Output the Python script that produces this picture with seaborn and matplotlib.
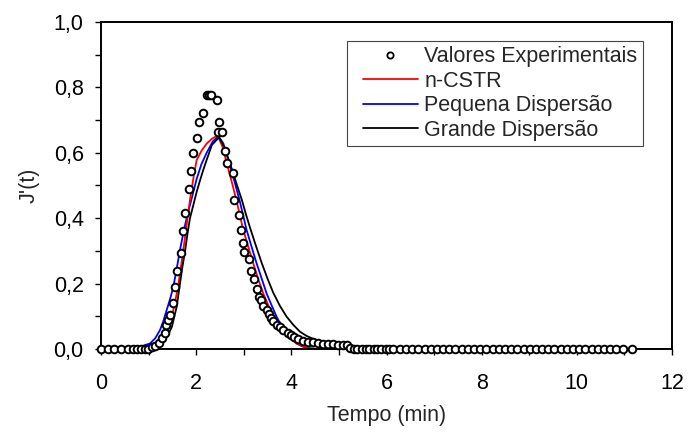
import numpy as np
import pandas as pd
import matplotlib
matplotlib.use("Agg")
import matplotlib.pyplot as plt
from matplotlib.ticker import MultipleLocator, FuncFormatter
from matplotlib.lines import Line2D
from matplotlib.legend_handler import HandlerLine2D
import seaborn as sns

# ---------------- data ----------------
t_exp = [0.00, 0.14, 0.28, 0.42, 0.56, 0.67, 0.76, 0.84, 0.92, 0.99,
         1.07, 1.14, 1.21, 1.28, 1.34, 1.37, 1.40, 1.44, 1.52, 1.56,
         1.60, 1.675, 1.72, 1.76, 1.85, 1.89, 1.93, 2.01, 2.05, 2.14,
         2.22, 2.26, 2.31, 2.43, 2.455, 2.48, 2.55, 2.60, 2.64, 2.77,
         2.80, 2.90, 2.94, 2.98, 3.01, 3.10, 3.15, 3.22, 3.28, 3.31,
         3.36, 3.41, 3.48, 3.53, 3.57, 3.62, 3.69, 3.76, 3.83, 3.92,
         3.99, 4.06, 4.15, 4.25, 4.34, 4.46, 4.57, 4.67, 4.78, 4.88,
         4.99, 5.09, 5.16, 5.23, 5.31, 5.39, 5.48, 5.56, 5.64, 5.73,
         5.81, 5.89, 5.98, 6.06, 6.14, 6.28, 6.41, 6.54, 6.67, 6.80,
         6.93, 7.06, 7.19, 7.32, 7.45, 7.58, 7.71, 7.84, 7.97, 8.10,
         8.23, 8.36, 8.49, 8.62, 8.75, 8.88, 9.01, 9.14, 9.27, 9.40,
         9.53, 9.66, 9.79, 9.92, 10.05, 10.18, 10.31, 10.44, 10.57, 10.70,
         10.83, 10.96, 11.15]
v_exp = [0, 0, 0, 0, 0, 0, 0, 0, 0, 0.001,
         0.006, 0.010, 0.018, 0.034, 0.050, 0.074, 0.089, 0.105, 0.142, 0.190,
         0.240, 0.295, 0.362, 0.416, 0.490, 0.545, 0.600, 0.644, 0.693, 0.722,
         0.778, 0.778, 0.778, 0.760, 0.663, 0.693, 0.663, 0.605, 0.568, 0.537,
         0.455, 0.410, 0.365, 0.325, 0.298, 0.275, 0.238, 0.213, 0.182, 0.159,
         0.149, 0.132, 0.118, 0.106, 0.095, 0.085, 0.073, 0.066, 0.057, 0.050,
         0.044, 0.037, 0.030, 0.025, 0.022, 0.020, 0.017, 0.015, 0.015, 0.015,
         0.012, 0.012, 0.012, 0.003, 0, 0, 0, 0, 0, 0,
         0, 0, 0, 0, 0, 0, 0, 0, 0, 0,
         0, 0, 0, 0, 0, 0, 0, 0, 0, 0,
         0, 0, 0, 0, 0, 0, 0, 0, 0, 0,
         0, 0, 0, 0, 0, 0, 0, 0, 0, 0,
         0, 0, 0]

t_ncstr = [0, 0.90, 1.03, 1.14, 1.24, 1.31, 1.38, 1.45, 1.52, 1.62,
           1.73, 1.80, 1.87, 1.95, 2.01, 2.12, 2.22, 2.33, 2.45, 2.55,
           2.64, 2.75, 2.85, 2.99, 3.10, 3.20, 3.30, 3.41, 3.52, 3.62,
           3.72, 3.83, 3.97, 4.11, 4.25, 4.39, 4.55, 12.0]
v_ncstr = [0, 0, 0.003, 0.008, 0.017, 0.030, 0.048, 0.080, 0.119, 0.190,
           0.303, 0.380, 0.456, 0.530, 0.578, 0.608, 0.628, 0.643, 0.653, 0.620,
           0.570, 0.510, 0.452, 0.364, 0.310, 0.262, 0.215, 0.170, 0.132, 0.099,
           0.075, 0.053, 0.033, 0.017, 0.008, 0.003, 0, 0]

t_pequena = [0, 0.45, 0.61, 0.82, 1.03, 1.14, 1.24, 1.31, 1.38, 1.45,
             1.52, 1.59, 1.66, 1.73, 1.80, 1.87, 1.94, 2.01, 2.11, 2.22,
             2.35, 2.47, 2.57, 2.68, 2.80, 2.91, 3.06, 3.17, 3.27, 3.38,
             3.48, 3.59, 3.69, 3.78, 3.87, 3.99, 4.11, 4.23, 4.35, 4.50, 12.0]
v_pequena = [0, 0, 0.003, 0.007, 0.017, 0.033, 0.058, 0.085, 0.119, 0.152,
             0.190, 0.245, 0.303, 0.355, 0.400, 0.440, 0.480, 0.520, 0.565, 0.600,
             0.635, 0.651, 0.629, 0.575, 0.515, 0.456, 0.364, 0.310, 0.262, 0.214,
             0.170, 0.132, 0.099, 0.074, 0.053, 0.033, 0.017, 0.008, 0.003, 0, 0]

t_grande = [0, 0.85, 1.10, 1.20, 1.31, 1.40, 1.49, 1.59, 1.66, 1.71,
            1.77, 1.82, 1.87, 1.94, 2.01, 2.08, 2.15, 2.22, 2.33, 2.48,
            2.60, 2.75, 2.86, 2.96, 3.05, 3.13, 3.25, 3.38, 3.50, 3.62,
            3.76, 3.90, 4.04, 4.18, 4.32, 4.46, 4.60, 4.81, 5.02, 5.20, 12.0]
v_grande = [0, 0, 0.007, 0.013, 0.022, 0.040, 0.068, 0.129, 0.200, 0.250,
            0.303, 0.355, 0.400, 0.440, 0.480, 0.515, 0.548, 0.578, 0.624, 0.647,
            0.615, 0.550, 0.500, 0.456, 0.410, 0.372, 0.318, 0.262, 0.215, 0.172,
            0.132, 0.099, 0.074, 0.053, 0.040, 0.031, 0.022, 0.012, 0.004, 0, 0]

x_ticks = [0, 2, 4, 6, 8, 10, 12]
y_ticks = [0.0, 0.2, 0.4, 0.6, 0.8, 1.0]

labels = ["Valores Experimentais", "n-CSTR", "Pequena Dispersão", "Grande Dispersão"]
colors = {"n-CSTR": "#ff0000", "Pequena Dispersão": "#0000ff", "Grande Dispersão": "#000000"}

# ---------------- style ----------------
FS = 15.5
sns.set_style("ticks")
plt.rcParams["font.family"] = ["Liberation Sans", "DejaVu Sans"]
plt.rcParams["font.size"] = FS

fig = plt.figure(figsize=(6.9, 4.37), dpi=100)
ax = fig.add_axes([101 / 690, 1 - 349 / 437, 571 / 690, 327 / 437])

exp_df = pd.DataFrame({"t": t_exp, "v": v_exp})
models = [("Pequena Dispersão", t_pequena, v_pequena),
          ("n-CSTR", t_ncstr, v_ncstr),
          ("Grande Dispersão", t_grande, v_grande)]
for name, tt, vv in models:
    df = pd.DataFrame({"t": tt, "v": vv})
    sns.lineplot(data=df, x="t", y="v", ax=ax, color=colors[name], linewidth=1.3,
                 estimator=None, sort=False, legend=False, zorder=2)

sns.scatterplot(data=exp_df, x="t", y="v", ax=ax, marker="o", s=30,
                facecolor="white", edgecolor="black", linewidth=1.4,
                legend=False, zorder=3)
ax.collections[-1].set_clip_on(False)

ax.set_xlim(0, 12)
ax.set_ylim(0, 1.0)
ax.set_xticks(x_ticks)
ax.set_yticks(y_ticks)
ax.xaxis.set_minor_locator(MultipleLocator(1))
ax.yaxis.set_minor_locator(MultipleLocator(0.1))
ax.yaxis.set_major_formatter(FuncFormatter(lambda v, p: f"{v:.1f}".replace(".", ",")))
ax.xaxis.set_major_formatter(FuncFormatter(lambda v, p: f"{v:g}"))
ax.tick_params(axis="both", which="both", direction="out", length=4.5, width=1,
               colors="black", labelsize=FS, top=False, right=False)
ax.tick_params(axis="y", which="major", pad=8)
ax.tick_params(axis="x", which="major", pad=13)
for sp in ax.spines.values():
    sp.set_visible(True)
    sp.set_color("black")
    sp.set_linewidth(1.4)

ax.set_xlabel("Tempo (min)", fontsize=FS, labelpad=8)
ax.set_ylabel("J'(t)", fontsize=FS, labelpad=10)

handles = [
    Line2D([], [], marker="o", linestyle="none", markersize=4.5, markerfacecolor="white",
           markeredgecolor="black", markeredgewidth=1.3),
    Line2D([], [], color=colors["n-CSTR"], linewidth=1.3),
    Line2D([], [], color=colors["Pequena Dispersão"], linewidth=1.3),
    Line2D([], [], color=colors["Grande Dispersão"], linewidth=1.3),
]
hmap = {h: HandlerLine2D(xpad=0.5) for h in handles}
leg = ax.legend(handles, labels, loc="upper right", bbox_to_anchor=(0.949, 0.942),
                borderaxespad=0, fontsize=FS, handlelength=3.05, handletextpad=0.3,
                labelspacing=0.16, borderpad=0.25, fancybox=False, framealpha=1,
                edgecolor="#444444", handler_map=hmap)
leg.get_frame().set_linewidth(0.8)

fig.savefig("out.png", dpi=100)
